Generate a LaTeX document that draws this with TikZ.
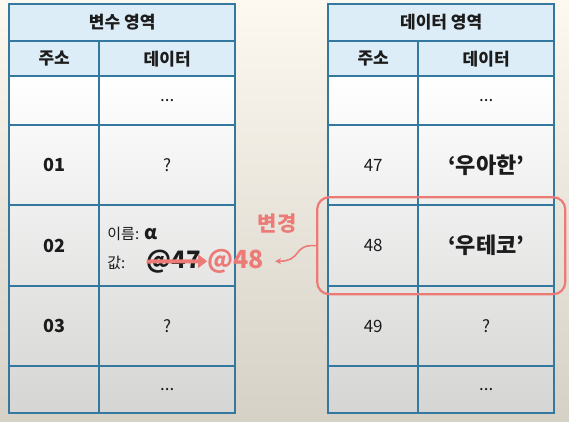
\documentclass[tikz,border=0pt]{standalone}
\usepackage{fontspec}
\setmainfont{Noto Sans CJK KR}
\usetikzlibrary{matrix}
\usetikzlibrary{positioning,fit,backgrounds,arrows.meta}
\definecolor{tblue}{RGB}{52,120,160}
\definecolor{thead}{RGB}{220,237,248}
\definecolor{txt}{RGB}{28,28,28}
\definecolor{chgred}{RGB}{236,122,118}
\definecolor{bgtop}{RGB}{253,249,240}
\definecolor{bgmid}{RGB}{247,242,231}
\definecolor{bgbot}{RGB}{214,209,199}
\definecolor{cellmid}{RGB}{246,246,246}
\definecolor{cellbot}{RGB}{213,213,212}
\newcommand{\fsz}[1]{\fontsize{#1}{#1}\selectfont}
\tikzset{
  cell/.style={draw=tblue, line width=2pt, outer sep=0pt, inner sep=0pt,
    anchor=center, text=txt, font=\fsz{17}},
  headcell/.style={cell, fill=thead, font=\fsz{17}\bfseries},
  addr/.style={font=\fsz{18}\bfseries},
  bigdata/.style={font=\fsz{22}\bfseries},
  lbl/.style={inner sep=0pt, text=txt, font=\fsz{15}},
  oldfont/.style={inner sep=0pt, text=txt, font=\fsz{24}\bfseries},
  newfont/.style={inner sep=0pt, text=chgred, font=\fsz{25}\bfseries},
  chgbox/.style={draw=chgred, line width=2.2pt, rounded corners=12pt,
    inner xsep=11pt, inner ysep=8pt},
  strike/.style={chgred, line width=4pt, -{Triangle[length=9pt,width=13pt]}},
  chgarrow/.style={chgred, line width=1.6pt, -{Stealth[length=6pt,width=6pt]}},
  cellshade/.style={top color=white, middle color=cellmid, bottom color=cellbot},
  memtable/.style={matrix of nodes, nodes in empty cells, inner sep=0pt,
    row sep=-2pt, column sep=-2pt, nodes={cell},
    column 1/.style={nodes={minimum width=90pt}},
    column 2/.style={nodes={minimum width=136pt}},
    row 1/.style={nodes={minimum height=35pt, fill=thead, font=\fsz{17}\bfseries}},
    row 2/.style={nodes={minimum height=49pt}},
    row 3/.style={nodes={minimum height=80pt}},
    row 4/.style={nodes={minimum height=81pt}},
    row 5/.style={nodes={minimum height=80pt}},
    row 6/.style={nodes={minimum height=47pt}}}
}
\begin{document}
\begin{tikzpicture}[x=1pt,y=-1pt]
  \useasboundingbox (0,0) rectangle (569,421);
  % variable area
  \matrix (var) [memtable, anchor=north west] at (8,40)
  { 주소 & 데이터 \\
         & ... \\
    |[addr]| 01 & ? \\
    |[addr]| 02 & \\
    |[addr]| 03 & ? \\
         & ... \\};
  \node[headcell, minimum width=226pt, minimum height=37pt, above=-1pt of var.north] (varhead) {변수 영역};
  % data area
  \matrix (dat) [memtable, anchor=north west] at (327,40)
  { 주소 & 데이터 \\
         & ... \\
    47 & |[bigdata]| ‘우아한’ \\
    48 & |[bigdata]| ‘우테코’ \\
    49 & ? \\
         & ... \\};
  \node[headcell, minimum width=226pt, minimum height=37pt, above=-1pt of dat.north] (dathead) {데이터 영역};
  % variable 02
  \node[lbl, anchor=west] (namekey) at ([xshift=8pt,yshift=12pt]var-4-2.west) {이름:};
  \node[lbl, font=\fsz{19}\bfseries, anchor=base west] (nameval) at ([xshift=5pt]namekey.base east) {α};
  \node[lbl, anchor=west] (valkey) at ([xshift=8pt,yshift=-17pt]var-4-2.west) {값:};
  \node[oldfont, anchor=base west] (oldval) at ([xshift=21pt]valkey.base east) {@47};
  \node[newfont, anchor=base west] (newval) at ([xshift=6pt]oldval.base east) {@48};
  \draw[strike] (oldval.west) -- (newval.west);
  % change
  \node[chgbox, fit=(dat-4-1)(dat-4-2)] (chg) {};
  \node[text=chgred, font=\fsz{21}\bfseries] (chglabel) at (277,224) {변경};
  \coordinate (chgtip) at ([xshift=11pt]newval.east);
  \draw[chgarrow] (chg.west) .. controls +(-24,-2) and +(28,0) .. (chgtip);
  \begin{scope}[on background layer]
    \shade[top color=bgtop, middle color=bgmid, bottom color=bgbot] (0,0) rectangle (569,421);
    \shade[cellshade] (var-2-1.north west) rectangle (var-6-2.south east);
    \shade[cellshade] (dat-2-1.north west) rectangle (dat-6-2.south east);
  \end{scope}
\end{tikzpicture}
\end{document}
